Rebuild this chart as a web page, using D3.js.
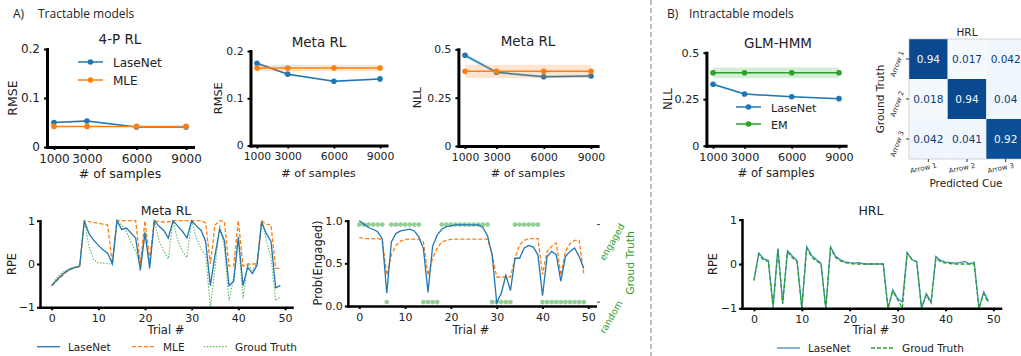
<!DOCTYPE html>
<html>
<head>
<meta charset="utf-8">
<script src="https://cdn.jsdelivr.net/npm/d3@7"></script>
<style>
  body { margin: 0; background: #fff; }
  svg { display: block; }
</style>
</head>
<body>
<svg id="fig" width="1021" height="356"></svg>
<script>
// ---------------- data ----------------
const sampleSizes = [1000, 3000, 6000, 9000];

const rl4LaseNet   = [0.050, 0.053, 0.041, 0.041];
const rl4LaseNetCi = [0.002, 0.002, 0.001, 0.001];
const rl4Mle       = [0.042, 0.042, 0.042, 0.042];
const rl4MleCi     = [0.001, 0.001, 0.001, 0.001];

const metaRmseLaseNet   = [0.174, 0.151, 0.136, 0.141];
const metaRmseLaseNetCi = [0.003, 0.002, 0.002, 0.002];
const metaRmseMle       = [0.164, 0.164, 0.164, 0.164];
const metaRmseMleCi     = [0.007, 0.007, 0.007, 0.007];

const metaNllLaseNet   = [0.469, 0.381, 0.358, 0.362];
const metaNllLaseNetCi = [0.012, 0.008, 0.006, 0.006];
const metaNllMle       = [0.386, 0.386, 0.386, 0.386];
const metaNllMleCi     = [0.034, 0.034, 0.034, 0.034];

const glmLaseNet   = [0.330, 0.278, 0.263, 0.253];
const glmLaseNetCi = [0.006, 0.004, 0.003, 0.003];
const glmEm        = [0.392, 0.392, 0.392, 0.392];
const glmEmCi      = [0.028, 0.028, 0.028, 0.028];

const rmseTicks = [0, 0.1, 0.2];
const rmseTickLabels = ["0", "0.1", "0.2"];
const nllTicks = [0, 0.25, 0.5];
const nllTickLabels = ["0", "0.25", "0.5"];

const cueLabels = ["Arrow 1", "Arrow 2", "Arrow 3"];
const hrlConfusion = [
  [0.94, 0.017, 0.042],
  [0.018, 0.94, 0.04],
  [0.042, 0.041, 0.92]
];

const trialTicks = [0, 10, 20, 30, 40, 50];
const rpeTicks = [-1, 0, 1];
const rpeTickLabels = ["\u22121", "0", "1"];
const probTicks = [0, 0.5, 1];
const probTickLabels = ["0.0", "0.5", "1.0"];

const metaRpeLaseNet = [-0.5, -0.38, -0.27, -0.18, -0.12, -0.08, -0.05, 1.0, 0.70, 0.55,
  0.43, 0.33, 0.25, 0.0, 1.0, 0.80, 0.83, 0.72, 0.60, -0.15,
  0.72, -0.10, 1.0, 0.87, 0.78, 0.60, 1.0, 0.88, 0.76, 0.60,
  1.0, 0.88, 0.78, 0.52, -0.50, 0.20, 0.80, 0.55, -0.50, -0.40,
  0.62, -0.50, -0.07, -0.22, -0.03, 0.97, 0.70, 0.52, -0.55, -0.50];
const metaRpeMle = [-0.5, -0.40, -0.30, -0.20, -0.13, -0.09, -0.06, 1.0, 0.98, 0.96,
  0.94, 0.92, 0.90, 0.0, 1.0, 1.0, 1.0, 1.0, 1.0, 0.0,
  1.0, 0.10, 1.0, 0.98, 0.97, 0.97, 1.0, 1.0, 1.0, 1.0,
  1.0, 1.0, 1.0, 0.95, 0.0, 0.90, 1.0, 0.98, -0.05, -0.05,
  1.0, -0.05, 0.0, 0.0, 0.0, 1.0, 0.92, 0.90, -0.10, -0.10];
const metaRpeTruth = [-0.5, -0.33, -0.22, -0.15, -0.10, -0.07, -0.05, 1.0, 0.40, 0.10,
  0.03, 0.02, 0.01, 0.0, 1.0, 0.90, 0.75, 0.50, 0.30, -0.05,
  0.75, 0.0, 1.0, 0.55, 0.30, 0.12, 1.0, 0.55, 0.30, 0.15,
  1.0, 0.60, 0.35, 0.20, -1.0, -0.10, 0.90, 0.40, -0.85, -0.30,
  0.55, -0.80, 0.0, -0.15, 0.0, 1.0, 0.55, 0.15, -0.85, -0.75];

const probLaseNet = [1.0, 0.96, 0.92, 0.90, 0.87, 0.79, 0.15, 0.75, 0.85, 0.88,
  0.89, 0.90, 0.88, 0.81, 0.67, 0.16, 0.70, 0.83, 0.90, 0.93,
  0.94, 0.95, 0.95, 0.95, 0.95, 0.95, 0.95, 0.92, 0.82, 0.60,
  0.04, 0.15, 0.36, 0.18, 0.56, 0.56, 0.68, 0.71, 0.69, 0.60,
  0.12, 0.58, 0.64, 0.60, 0.29, 0.58, 0.64, 0.68, 0.58, 0.44];
const probMle = [0.805, 0.79, 0.79, 0.79, 0.79, 0.78, 0.36, 0.60, 0.71, 0.76,
  0.78, 0.785, 0.785, 0.785, 0.75, 0.36, 0.56, 0.68, 0.75, 0.77,
  0.78, 0.785, 0.785, 0.785, 0.785, 0.785, 0.785, 0.785, 0.785, 0.60,
  0.34, 0.34, 0.34, 0.34, 0.56, 0.72, 0.77, 0.79, 0.79, 0.79,
  0.37, 0.64, 0.70, 0.74, 0.36, 0.64, 0.73, 0.77, 0.77, 0.38];
// 1 = engaged, 0 = random
const engagedTruth = [1, 1, 1, 1, 1, 1, 0, 1, 1, 1,
  1, 1, 1, 1, 0, 0, 0, 0, 1, 1,
  1, 1, 1, 1, 1, 1, 1, 1, 1, 0,
  0, 0, 0, 0, 1, 1, 1, 1, 1, 1,
  0, 0, 0, 0, 0, 0, 0, 0, 0, 0];

const hrlLaseNet = [-0.37, 0.25, 0.12, 0.08, -0.95, 0.35, -0.88, 0.30, 0.18, 0.08,
  -1.0, 0.39, 0.20, 0.10, 0.02, -1.0, 0.39, 0.18, 0.10, 0.05,
  0.03, 0.02, 0.03, 0.0, 0.0, 0.0, 0.0, 0.0, -1.0, -0.58,
  -0.78, -0.86, 0.25, 0.10, 0.05, -1.0, -0.67, -0.86, 0.17, 0.08,
  0.04, 0.03, 0.02, 0.03, 0.06, 0.0, 0.04, -1.0, -0.63, -0.85];
const hrlTruth = [-0.37, 0.22, 0.09, 0.06, -1.0, 0.33, -0.90, 0.27, 0.14, 0.06,
  -1.0, 0.36, 0.16, 0.07, 0.01, -1.0, 0.36, 0.15, 0.07, 0.03,
  0.01, 0.0, 0.0, 0.0, 0.0, 0.0, 0.0, 0.0, -1.0, -0.62,
  -0.80, -1.0, 0.25, 0.10, 0.05, -1.0, -0.70, -0.88, 0.13, 0.05,
  0.02, 0.01, 0.0, 0.0, 0.0, 0.0, 0.0, -1.0, -0.67, -0.88];

// ---------------- drawing ----------------
const FONT = "DejaVu Sans, sans-serif";
const BLUE = "#1f77b4", ORANGE = "#ff7f0e", GREEN = "#2ca02c";
const svg = d3.select("#fig");
const trials = d3.range(50);

function addAxes(g, x, y, o) {
  const gx = g.append("g")
    .attr("transform", `translate(0,${y.range()[0]})`)
    .call(d3.axisBottom(x).tickValues(o.xTicks).tickFormat(d3.format("d"))
      .tickSize(3).tickSizeOuter(0).tickPadding(o.xPad));
  const gy = g.append("g")
    .attr("transform", `translate(${x.range()[0]},0)`)
    .call(d3.axisLeft(y).tickValues(o.yTicks).tickFormat((d, i) => o.yLabels[i])
      .tickSize(3).tickSizeOuter(0).tickPadding(o.yPad));
  [gx, gy].forEach(a => {
    a.attr("font-size", o.fs).attr("font-family", FONT);
    a.select(".domain").attr("stroke-width", o.sw).attr("stroke-linecap", "square");
    a.selectAll(".tick line").attr("stroke-width", 2);
    a.selectAll(".tick text").attr("fill", "#222");
  });
}

function label(g, txt, x, y, fs, opts = {}) {
  return g.append("text")
    .attr("x", x).attr("y", y)
    .attr("text-anchor", opts.anchor || "middle")
    .attr("font-family", opts.font || FONT)
    .attr("font-size", fs)
    .attr("fill", opts.fill || "#222")
    .text(txt);
}

function ylabel(g, txt, x, y, fs, fill) {
  g.append("text")
    .attr("transform", `translate(${x},${y}) rotate(-90)`)
    .attr("dy", "0.35em")
    .attr("text-anchor", "middle")
    .attr("font-family", FONT).attr("font-size", fs)
    .attr("fill", fill || "#222")
    .text(txt);
}

// ---- top sample-size panels ----
const samplePanels = [
  { x0: 47, x1: 193, yb: 147, yt: 49, ymax: 0.2, ticks: rmseTicks, tl: rmseTickLabels,
    title: "4-P RL", tx: 120, ty: 44, yl: "RMSE", lx: 13, fs: 12,
    series: [
      { v: rl4LaseNet, ci: rl4LaseNetCi, c: BLUE, name: "LaseNet" },
      { v: rl4Mle, ci: rl4MleCi, c: ORANGE, name: "MLE" }],
    legend: { x: 78, y: 62, dy: 18 } },
  { x0: 250.5, x1: 386.5, yb: 145.5, yt: 51, ymax: 0.2, ticks: rmseTicks, tl: rmseTickLabels,
    title: "Meta RL", tx: 319, ty: 47, yl: "RMSE", lx: 218, fs: 10.8,
    series: [
      { v: metaRmseLaseNet, ci: metaRmseLaseNetCi, c: BLUE },
      { v: metaRmseMle, ci: metaRmseMleCi, c: ORANGE }] },
  { x0: 458.4, x1: 597.6, yb: 146, yt: 49.3, ymax: 0.5, ticks: nllTicks, tl: nllTickLabels,
    title: "Meta RL", tx: 528, ty: 46, yl: "NLL", lx: 417, fs: 10.8,
    series: [
      { v: metaNllLaseNet, ci: metaNllLaseNetCi, c: BLUE },
      { v: metaNllMle, ci: metaNllMleCi, c: ORANGE }] },
  { x0: 706.4, x1: 845.6, yb: 145.7, yt: 52.7, ymax: 0.5, ticks: nllTicks, tl: nllTickLabels,
    title: "GLM-HMM", tx: 778, ty: 48, yl: "NLL", lx: 668, fs: 11.2,
    series: [
      { v: glmLaseNet, ci: glmLaseNetCi, c: BLUE, name: "LaseNet" },
      { v: glmEm, ci: glmEmCi, c: GREEN, name: "EM" }],
    legend: { x: 736, y: 107, dy: 17 } }
];

samplePanels.forEach(p => {
  const g = svg.append("g");
  const x = d3.scaleLinear().domain([580, 9420]).range([p.x0, p.x1]);
  const y = d3.scaleLinear().domain([0, p.ymax]).range([p.yb, p.yt]);

  p.series.forEach(s => {
    const rows = sampleSizes.map((n, i) => ({ n, v: s.v[i], ci: s.ci[i] }));
    g.append("path").datum(rows)
      .attr("fill", s.c).attr("fill-opacity", 0.2)
      .attr("d", d3.area().x(d => x(d.n)).y0(d => y(d.v - d.ci)).y1(d => y(d.v + d.ci)));
    g.append("path").datum(rows)
      .attr("fill", "none").attr("stroke", s.c).attr("stroke-width", 1.5)
      .attr("d", d3.line().x(d => x(d.n)).y(d => y(d.v)));
    g.selectAll(null).data(rows).enter().append("circle")
      .attr("cx", d => x(d.n)).attr("cy", d => y(d.v)).attr("r", 2.8)
      .attr("fill", s.c);
  });

  addAxes(g, x, y, { xTicks: sampleSizes, yTicks: p.ticks, yLabels: p.tl,
    xPad: 4, yPad: 4, fs: p.fs, sw: 3 });

  label(g, p.title, p.tx, p.ty, 13.5);
  label(g, "# of samples", (p.x0 + p.x1) / 2, p.yb + 31, p.fs + 0.5);
  ylabel(g, p.yl, p.lx, (p.yb + p.yt) / 2, p.fs + 0.5);

  if (p.legend) {
    p.series.forEach((s, i) => {
      const ly = p.legend.y + i * p.legend.dy;
      g.append("line").attr("x1", p.legend.x).attr("x2", p.legend.x + 25)
        .attr("y1", ly).attr("y2", ly).attr("stroke", s.c).attr("stroke-width", 1.5);
      g.append("circle").attr("cx", p.legend.x + 12.5).attr("cy", ly).attr("r", 2.8).attr("fill", s.c);
      label(g, s.name, p.legend.x + 35, ly + 4.5, p.fs, { anchor: "start" });
    });
  }
});

// ---- confusion matrix ----
{
  const g = svg.append("g");
  const cx = d3.scaleBand().domain(cueLabels).range([909, 1025]);
  const cy = d3.scaleBand().domain(cueLabels).range([39, 159]);
  const color = d3.scaleSequential(d3.interpolateBlues).domain([0, 1.04]);
  const cells = [];
  hrlConfusion.forEach((row, i) => row.forEach((v, j) => cells.push({ r: cueLabels[i], c: cueLabels[j], v })));
  g.selectAll(null).data(cells).enter().append("rect")
    .attr("x", d => cx(d.c)).attr("y", d => cy(d.r))
    .attr("width", cx.bandwidth()).attr("height", cy.bandwidth())
    .attr("fill", d => color(d.v));
  g.selectAll(null).data(cells).enter().append("text")
    .attr("x", d => cx(d.c) + cx.bandwidth() / 2).attr("y", d => cy(d.r) + cy.bandwidth() / 2)
    .attr("dy", "0.35em").attr("text-anchor", "middle")
    .attr("font-family", FONT).attr("font-size", 10.5)
    .attr("fill", d => d.v > 0.5 ? "#f7fbff" : "#0b3c7a")
    .text(d => d.v);
  g.append("rect").attr("x", 909).attr("y", 39).attr("width", 116).attr("height", 120)
    .attr("fill", "none").attr("stroke", "#bbb").attr("stroke-width", 0.6);

  cueLabels.forEach(c => {
    const ym = cy(c) + cy.bandwidth() / 2;
    g.append("line").attr("x1", 906).attr("x2", 909).attr("y1", ym).attr("y2", ym).attr("stroke", "#333");
    g.append("text").attr("transform", `translate(897,${ym + 5}) rotate(-70)`)
      .attr("text-anchor", "middle").attr("dy", "0.35em")
      .attr("font-family", FONT).attr("font-size", 7).attr("fill", "#333").text(c);
    const xm = cx(c) + cx.bandwidth() / 2;
    g.append("line").attr("x1", xm).attr("x2", xm).attr("y1", 159).attr("y2", 162).attr("stroke", "#333");
    g.append("text").attr("transform", `translate(${xm - 5},168) rotate(-12)`)
      .attr("text-anchor", "middle").attr("dy", "0.35em")
      .attr("font-family", FONT).attr("font-size", 7).attr("fill", "#333").text(c);
  });
  label(g, "HRL", 967, 36, 10.5);
  label(g, "Predicted Cue", 966, 187, 10.5);
  ylabel(g, "Ground Truth", 880, 99, 10.5);
}

// ---- trial panels ----
function trialPanel(o) {
  const g = svg.append("g");
  const x = d3.scaleLinear().domain([-2.5, 51.5]).range([o.x0, o.x1]);
  const y = d3.scaleLinear().domain(o.ydom).range([o.yb, o.yt]);
  return { g, x, y };
}

function drawLine(g, x, y, vals, style) {
  g.append("path").datum(vals)
    .attr("fill", "none").attr("stroke", style.c).attr("stroke-width", style.w || 1.3)
    .attr("stroke-dasharray", style.dash || null)
    .attr("stroke-opacity", style.op || 1)
    .attr("d", d3.line().x((d, i) => x(trials[i])).y(d => y(d)));
}

function legendRow(g, items, ly) {
  items.forEach(it => {
    g.append("line").attr("x1", it.x).attr("x2", it.x + 23).attr("y1", ly).attr("y2", ly)
      .attr("stroke", it.c).attr("stroke-width", 1.3)
      .attr("stroke-dasharray", it.dash || null).attr("stroke-opacity", it.op || 1);
    label(g, it.name, it.x + 31, ly + 4, 10.5, { anchor: "start" });
  });
}

// Meta RL RPE
{
  const { g, x, y } = trialPanel({ x0: 40, x1: 292, yb: 307.3, yt: 220.7, ydom: [-1, 1] });
  drawLine(g, x, y, metaRpeTruth, { c: GREEN, dash: "1.5,1.5", op: 0.75, w: 1.1 });
  drawLine(g, x, y, metaRpeMle, { c: ORANGE, dash: "4,2" });
  drawLine(g, x, y, metaRpeLaseNet, { c: BLUE });
  addAxes(g, x, y, { xTicks: trialTicks, yTicks: rpeTicks, yLabels: rpeTickLabels,
    xPad: 4, yPad: 2, fs: 11, sw: 2.5 });
  label(g, "Meta RL", 166, 215, 12.5);
  label(g, "Trial #", 166, 334, 11.5);
  ylabel(g, "RPE", 12, 264, 11.5);
  legendRow(g, [
    { x: 37, c: BLUE, name: "LaseNet" },
    { x: 132, c: ORANGE, dash: "4,2", name: "MLE" },
    { x: 204, c: GREEN, dash: "1.5,1.5", op: 0.75, name: "Groud Truth" }], 346.7);
}

// Prob(Engaged)
{
  const { g, x, y } = trialPanel({ x0: 347.85, x1: 595.2, yb: 306, yt: 220.7, ydom: [0, 1] });
  const y2 = d3.scaleLinear().domain([-0.05, 1.05]).range([306, 220.7]);
  g.selectAll(null).data(engagedTruth).enter().append("circle")
    .attr("cx", (d, i) => x(trials[i])).attr("cy", d => y2(d)).attr("r", 2.4)
    .attr("fill", GREEN).attr("fill-opacity", 0.5);
  drawLine(g, x, y, probMle, { c: ORANGE, dash: "4,2" });
  drawLine(g, x, y, probLaseNet, { c: BLUE });
  addAxes(g, x, y, { xTicks: trialTicks, yTicks: probTicks, yLabels: probTickLabels,
    xPad: 4, yPad: 2, fs: 11, sw: 2.5 });
  [0, 1].forEach(v => {
    g.append("line").attr("x1", 597).attr("x2", 600).attr("y1", y2(v)).attr("y2", y2(v))
      .attr("stroke", "#444").attr("stroke-width", 1);
  });
  g.append("text").attr("transform", `translate(612,242) rotate(-60)`)
    .attr("text-anchor", "middle").attr("dy", "0.35em")
    .attr("font-family", FONT).attr("font-size", 9.3).attr("fill", GREEN).text("engaged");
  g.append("text").attr("transform", `translate(611,317) rotate(-60)`)
    .attr("text-anchor", "middle").attr("dy", "0.35em")
    .attr("font-family", FONT).attr("font-size", 9.3).attr("fill", GREEN).text("random");
  ylabel(g, "Groud Truth", 630, 263, 10.8, GREEN);
  label(g, "Trial #", 471, 334, 11.5);
  ylabel(g, "Prob(Engaged)", 318, 263, 11.5);
}

// HRL RPE
{
  const { g, x, y } = trialPanel({ x0: 742, x1: 1000.5, yb: 308.3, yt: 219.7, ydom: [-1, 1] });
  drawLine(g, x, y, hrlLaseNet, { c: BLUE, op: 0.85 });
  drawLine(g, x, y, hrlTruth, { c: GREEN, dash: "4,2" });
  addAxes(g, x, y, { xTicks: trialTicks, yTicks: rpeTicks, yLabels: rpeTickLabels,
    xPad: 4, yPad: 2, fs: 11, sw: 2.5 });
  label(g, "HRL", 871, 215, 12.5);
  label(g, "Trial #", 871, 334, 11.5);
  ylabel(g, "RPE", 713, 264, 11.5);
  legendRow(g, [
    { x: 777, c: BLUE, op: 0.85, name: "LaseNet" },
    { x: 871, c: GREEN, dash: "4,2", name: "Groud Truth" }], 348);
}

// ---- section headers and divider ----
svg.append("line").attr("x1", 651).attr("x2", 651).attr("y1", 0).attr("y2", 356)
  .attr("stroke", "#808080").attr("stroke-width", 1).attr("stroke-dasharray", "5,3");
label(svg, "A)", 13, 17.5, 12, { anchor: "start", font: "Open Sans, sans-serif" });
label(svg, "Tractable models", 38, 17.5, 12, { anchor: "start", font: "Open Sans, sans-serif" });
label(svg, "B)", 667, 17.5, 12, { anchor: "start", font: "Open Sans, sans-serif" });
label(svg, "Intractable models", 689, 17.5, 12, { anchor: "start", font: "Open Sans, sans-serif" });
</script>
</body>
</html>
